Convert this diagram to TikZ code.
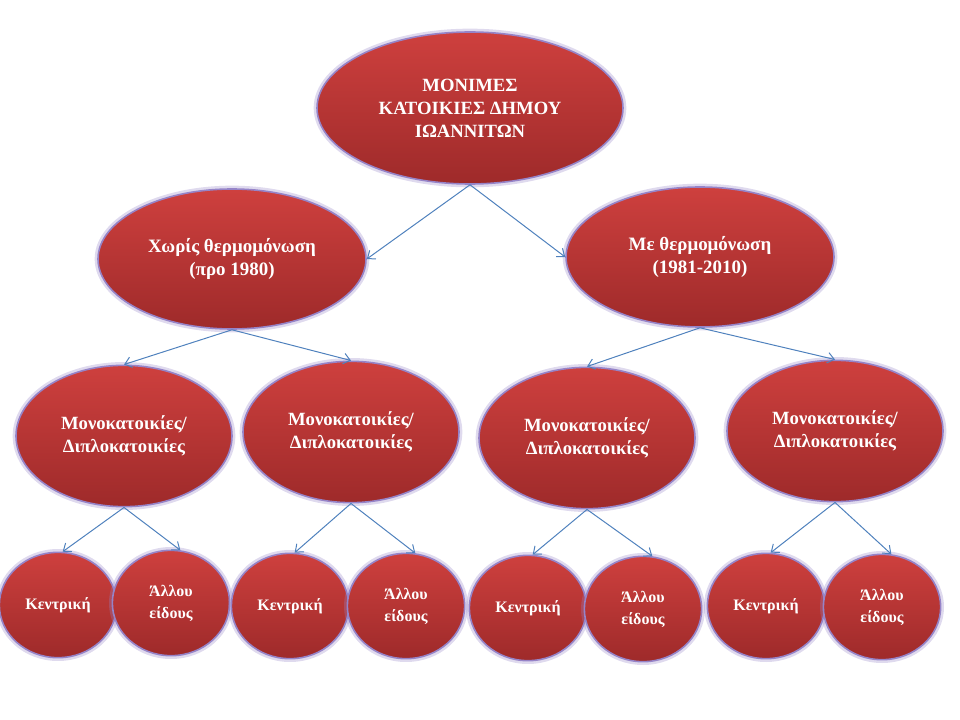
\documentclass[tikz,border=0pt]{standalone}
\usepackage{fontspec}
\setmainfont{Liberation Serif}
\usetikzlibrary{shapes.geometric,arrows.meta}
\definecolor{redtop}{RGB}{206,64,62}
\definecolor{redbot}{RGB}{158,42,42}
\definecolor{glow}{RGB}{150,132,200}
\definecolor{arrowblue}{RGB}{79,129,189}
\tikzset{
  blob/.style={ellipse, inner sep=0pt, align=center, text=white, font=\bfseries,
    top color=redtop, bottom color=redbot, draw=glow, line width=1.2pt,
    preaction={draw=glow, line width=5pt, draw opacity=0.3}},
  bigblob/.style={blob, minimum width=229.5pt, minimum height=114pt, font=\bfseries\fontsize{14}{17.25}\selectfont},
  midblob/.style={blob, minimum width=201pt, minimum height=105pt, font=\bfseries\fontsize{14.2}{17.25}\selectfont},
  subblob/.style={blob, minimum width=162pt, minimum height=106pt, font=\bfseries\fontsize{14}{17.25}\selectfont},
  leafblob/.style={blob, minimum width=88pt, minimum height=79pt, font=\bfseries\fontsize{12}{16.5}\selectfont},
  conn/.style={draw=arrowblue, line width=0.75pt, -{Straight Barb[length=5pt,width=8pt]}}
}
\begin{document}
\begin{tikzpicture}[x=0.75pt, y=-0.75pt]
\useasboundingbox (0,0) rectangle (960,720);
\node[bigblob] (top) at (470,108) {ΜΟΝΙΜΕΣ\\ΚΑΤΟΙΚΙΕΣ ΔΗΜΟΥ\\ΙΩΑΝΝΙΤΩΝ};
\node[midblob] (l2a) at (232,259) {Χωρίς θερμομόνωση\\(προ 1980)};
\node[midblob] (l2b) at (700,257) {Με θερμομόνωση\\(1981-2010)};
\node[subblob] (l3a) at (124,436) {Μονοκατοικίες/\\Διπλοκατοικίες};
\node[subblob] (l3b) at (351,432) {Μονοκατοικίες/\\Διπλοκατοικίες};
\node[subblob] (l3c) at (587,438) {Μονοκατοικίες/\\Διπλοκατοικίες};
\node[subblob] (l3d) at (835,431) {Μονοκατοικίες/\\Διπλοκατοικίες};
\node[leafblob] (k1) at (58,605) {Κεντρική};
\node[leafblob] (a1) at (171,603) {Άλλου\\είδους};
\node[leafblob] (k2) at (290,606) {Κεντρική};
\node[leafblob] (a2) at (406,606) {Άλλου\\είδους};
\node[leafblob] (k3) at (528,608) {Κεντρική};
\node[leafblob] (a3) at (643,609) {Άλλου\\είδους};
\node[leafblob] (k4) at (766,606) {Κεντρική};
\node[leafblob] (a4) at (882,607) {Άλλου\\είδους};
\draw[conn] (top.south) -- (l2a.east);
\draw[conn] (top.south) -- (l2b.west);
\draw[conn] (l2a.south) -- (l3a.north);
\draw[conn] (l2a.south) -- (l3b.north);
\draw[conn] (l2b.south) -- (l3c.north);
\draw[conn] (l2b.south) -- (l3d.north);
\draw[conn] (l3a.south) -- (k1.85);
\draw[conn] (l3a.south) -- (a1.80);
\draw[conn] (l3b.south) -- (k2.85);
\draw[conn] (l3b.south) -- (a2.80);
\draw[conn] (l3c.south) -- (k3.85);
\draw[conn] (l3c.south) -- (a3.80);
\draw[conn] (l3d.south) -- (k4.85);
\draw[conn] (l3d.south) -- (a4.80);
\end{tikzpicture}
\end{document}
